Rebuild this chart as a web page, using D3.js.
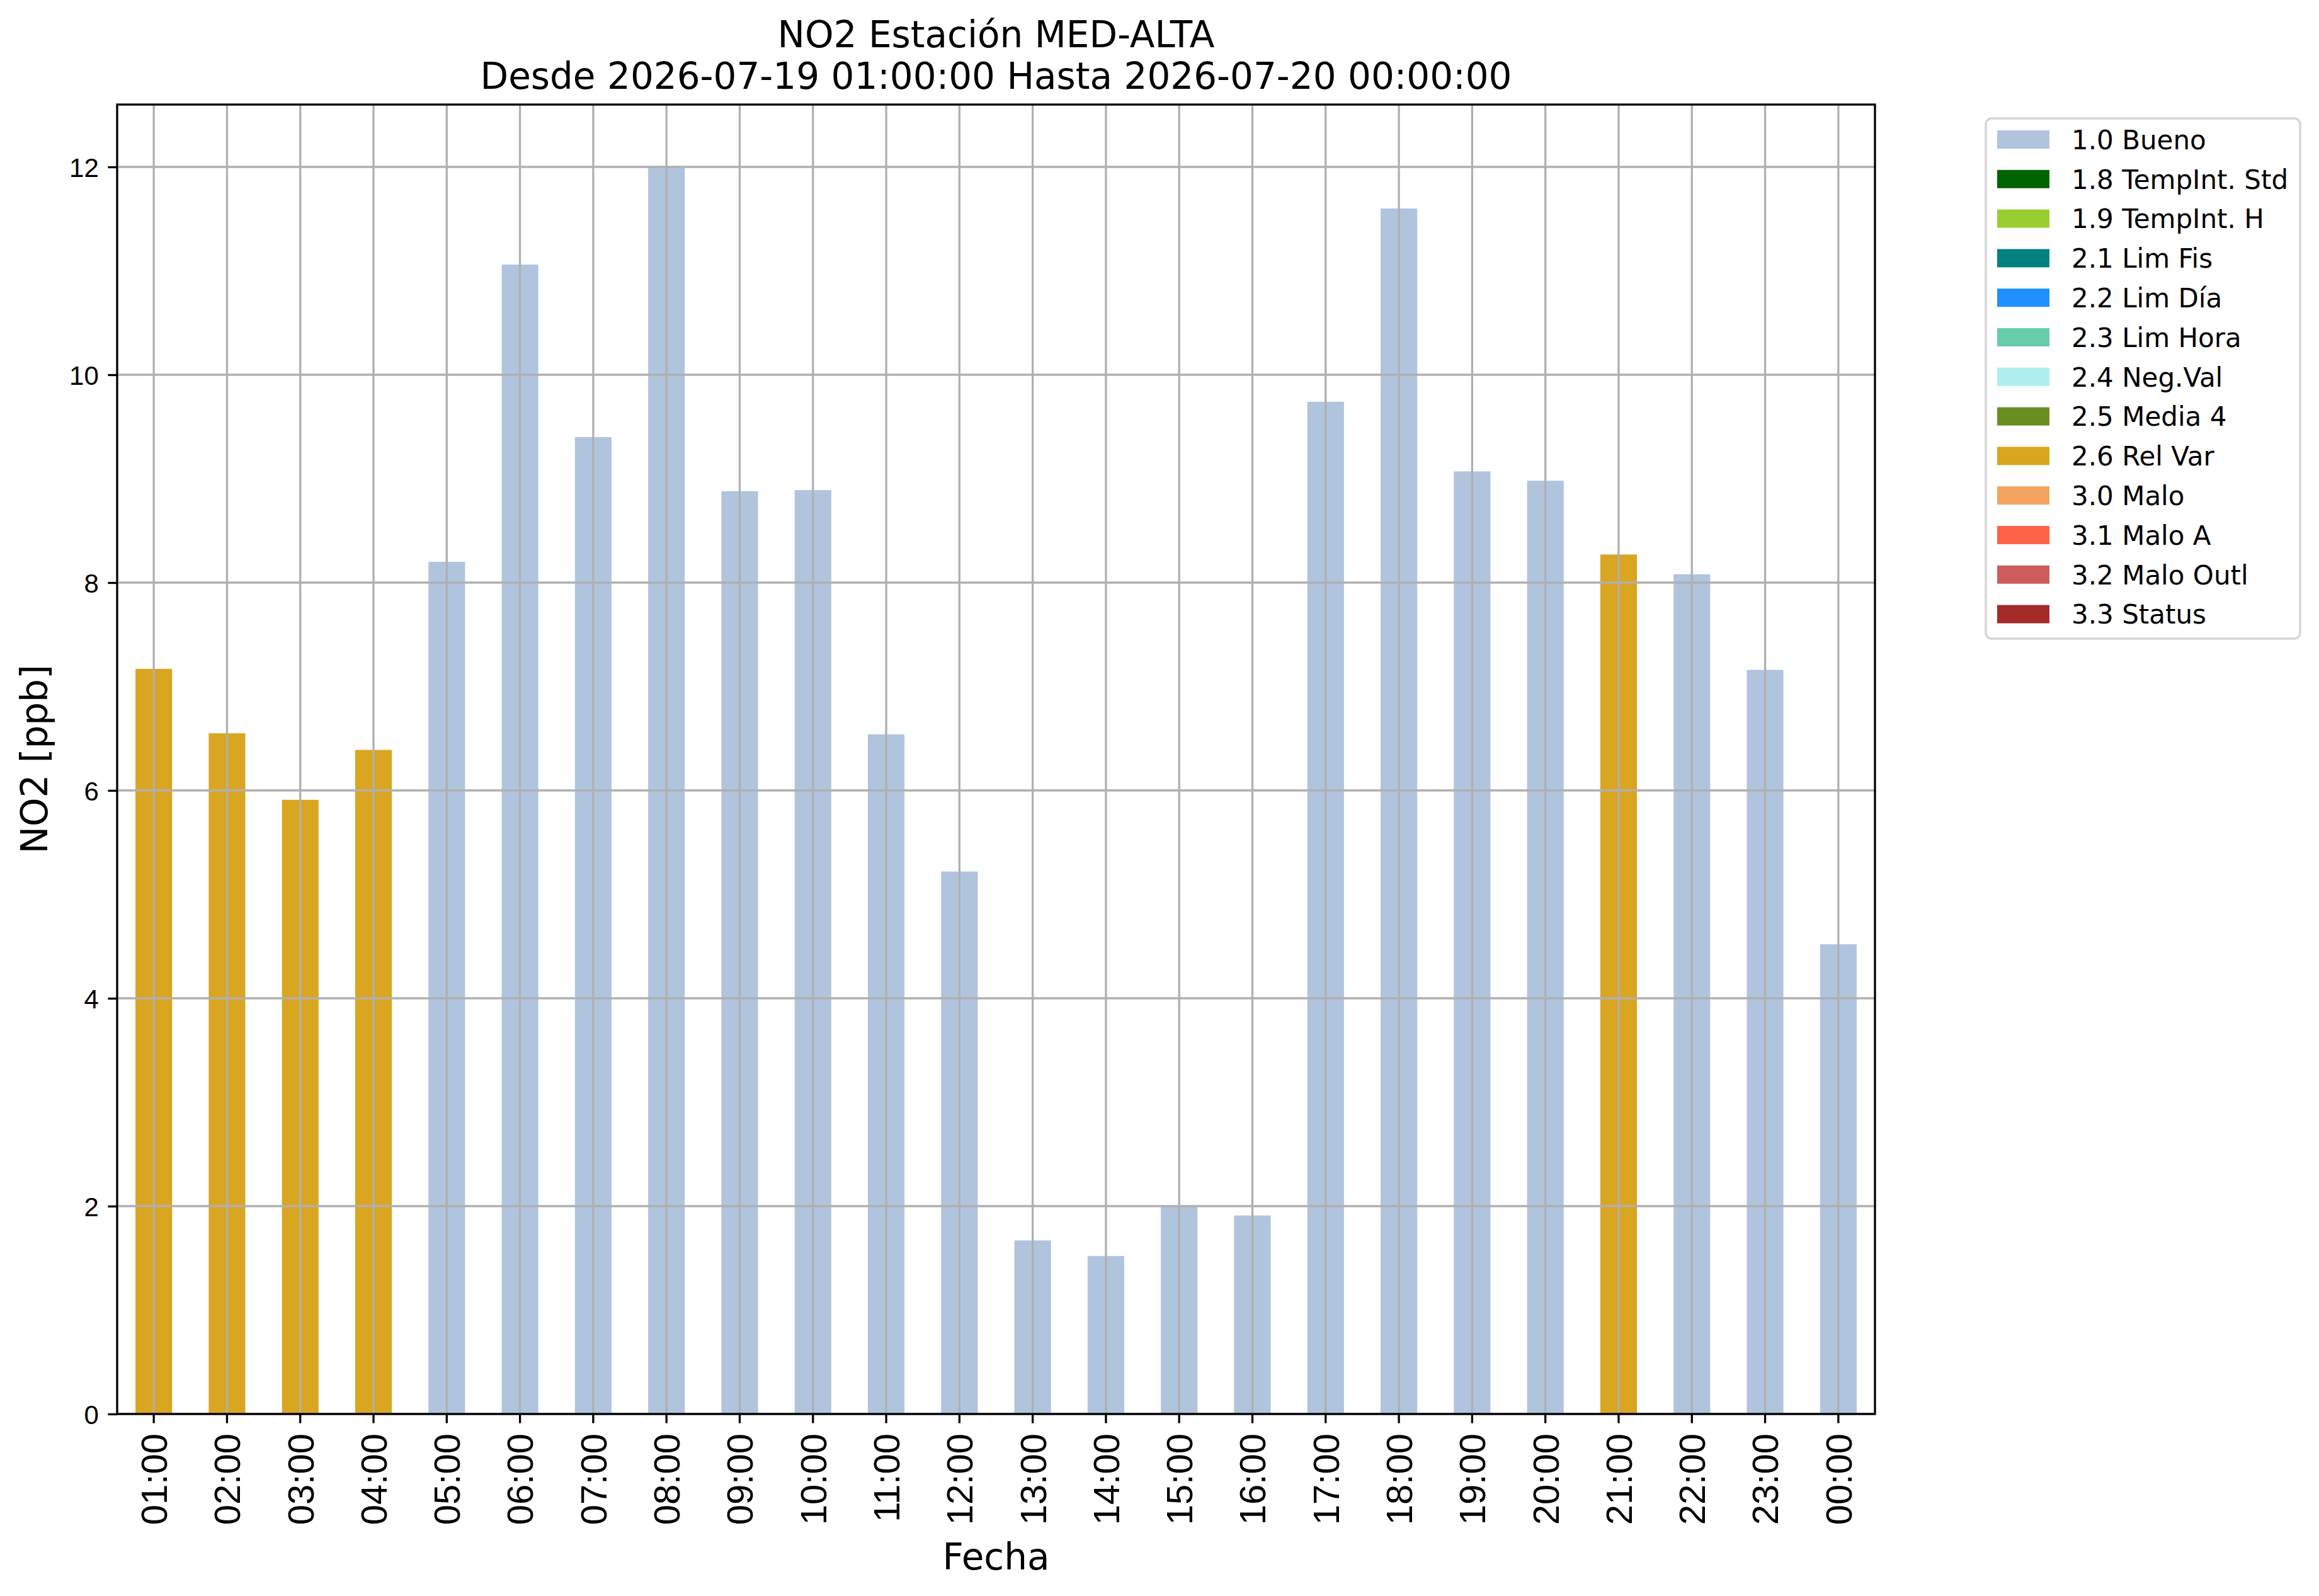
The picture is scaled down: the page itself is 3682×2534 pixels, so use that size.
<!DOCTYPE html>
<html lang="es">
<head>
<meta charset="UTF-8">
<title>NO2 Estación MED-ALTA</title>
<style>
body { margin: 0; background: #fff; }
svg { display: block; font-family: "DejaVu Sans", sans-serif; }
.axis path { display: none; }
.axis line { stroke: #000; stroke-width: 3.3; }
.axis text { fill: #000; }
.grid line { stroke: #b0b0b0; stroke-width: 3.3; }
</style>
</head>
<body>
<svg width="3682" height="2534"></svg>
<script src="https://d3js.org/d3.v7.min.js"></script>
<script>

// hours on the x axis
const hours = ['01:00', '02:00', '03:00', '04:00', '05:00', '06:00', '07:00', '08:00',
    '09:00', '10:00', '11:00', '12:00', '13:00', '14:00', '15:00', '16:00',
    '17:00', '18:00', '19:00', '20:00', '21:00', '22:00', '23:00', '00:00'];

// NO2 [ppb] per hour
const values = [7.17, 6.55, 5.91, 6.39, 8.20, 11.06, 9.40, 12.00,
    8.88, 8.89, 6.54, 5.22, 1.67, 1.52, 2.00, 1.91,
    9.74, 11.60, 9.07, 8.98, 8.27, 8.08, 7.16, 4.52];

// validation flag of each hour
const flags = ['2.6 Rel Var', '2.6 Rel Var', '2.6 Rel Var', '2.6 Rel Var', '1.0 Bueno', '1.0 Bueno', '1.0 Bueno', '1.0 Bueno',
    '1.0 Bueno', '1.0 Bueno', '1.0 Bueno', '1.0 Bueno', '1.0 Bueno', '1.0 Bueno', '1.0 Bueno', '1.0 Bueno',
    '1.0 Bueno', '1.0 Bueno', '1.0 Bueno', '1.0 Bueno', '2.6 Rel Var', '1.0 Bueno', '1.0 Bueno', '1.0 Bueno'];

// legend categories and their colours
const categories = ['1.0 Bueno', '1.8 TempInt. Std', '1.9 TempInt. H', '2.1 Lim Fis', '2.2 Lim Día',
    '2.3 Lim Hora', '2.4 Neg.Val', '2.5 Media 4', '2.6 Rel Var', '3.0 Malo',
    '3.1 Malo A', '3.2 Malo Outl', '3.3 Status'];
const categoryColors = ['lightsteelblue', 'darkgreen', 'yellowgreen', 'teal', 'dodgerblue',
    'mediumaquamarine', 'paleturquoise', 'olivedrab', 'goldenrod', 'sandybrown',
    'tomato', 'indianred', 'brown'];

const yTicks = [0, 2, 4, 6, 8, 10, 12];

const titleLines = ['NO2 Estación MED-ALTA', 'Desde 2026-07-19 01:00:00 Hasta 2026-07-20 00:00:00'];

const data = hours.map((h, i) => ({ hour: h, value: values[i], flag: flags[i] }));

var svg = d3.select('svg');

var plot = { left: 186, right: 2977, top: 166, bottom: 2245 };

var x = d3.scaleBand()
    .domain(hours)
    .range([plot.left, plot.right])
    .paddingInner(0.5)
    .paddingOuter(0.25);

var y = d3.scaleLinear()
    .domain([0, 12.6])
    .range([plot.bottom, plot.top]);

var color = d3.scaleOrdinal()
    .domain(categories)
    .range(categoryColors);

// bars
svg.append('g')
    .attr('class', 'bars')
    .selectAll('rect')
    .data(data)
    .enter().append('rect')
    .attr('x', d => x(d.hour))
    .attr('y', d => y(d.value))
    .attr('width', x.bandwidth())
    .attr('height', d => y(0) - y(d.value))
    .attr('fill', d => color(d.flag));

// grid, drawn over the bars
let grid = svg.append('g').attr('class', 'grid');
grid.selectAll('.gx')
    .data(hours)
    .enter().append('line')
    .attr('x1', d => x(d) + x.bandwidth() / 2)
    .attr('x2', d => x(d) + x.bandwidth() / 2)
    .attr('y1', plot.top)
    .attr('y2', plot.bottom);
grid.selectAll('.gy')
    .data(yTicks)
    .enter().append('line')
    .attr('x1', plot.left)
    .attr('x2', plot.right)
    .attr('y1', d => y(d))
    .attr('y2', d => y(d));

// axes
let xAxis = svg.append('g')
    .attr('class', 'axis axis--x')
    .attr('transform', `translate(0, ${plot.bottom})`)
    .call(d3.axisBottom(x).tickSize(14.6).tickPadding(14.6));
xAxis.selectAll('text')
    .attr('font-size', 58)
    .attr('transform', 'rotate(-90)')
    .attr('text-anchor', 'end')
    .attr('x', -31)
    .attr('y', 0)
    .attr('dy', '0.36em');

let yAxis = svg.append('g')
    .attr('class', 'axis axis--y')
    .attr('transform', `translate(${plot.left}, 0)`)
    .call(d3.axisLeft(y).tickValues(yTicks).tickSize(14.6).tickPadding(14.6));
yAxis.selectAll('text')
    .attr('font-size', 42)
    .attr('dy', '0.36em');

// frame
svg.append('rect')
    .attr('x', plot.left)
    .attr('y', plot.top)
    .attr('width', plot.right - plot.left)
    .attr('height', plot.bottom - plot.top)
    .attr('fill', 'none')
    .attr('stroke', '#000')
    .attr('stroke-width', 3.3);

// title
svg.append('g')
    .selectAll('text')
    .data(titleLines)
    .enter().append('text')
    .attr('x', (plot.left + plot.right) / 2)
    .attr('y', (d, i) => 75 + i * 66)
    .attr('text-anchor', 'middle')
    .attr('font-size', 58)
    .text(d => d);

// axis labels
svg.append('text')
    .attr('x', (plot.left + plot.right) / 2)
    .attr('y', 2492)
    .attr('text-anchor', 'middle')
    .attr('font-size', 58)
    .text('Fecha');

svg.append('text')
    .attr('transform', `translate(75, ${(plot.top + plot.bottom) / 2}) rotate(-90)`)
    .attr('text-anchor', 'middle')
    .attr('font-size', 58)
    .text('NO2 [ppb]');

// legend
let legend = svg.append('g').attr('class', 'legend');
legend.append('rect')
    .attr('x', 3153)
    .attr('y', 188)
    .attr('width', 499)
    .attr('height', 826)
    .attr('rx', 9)
    .attr('fill', '#fff')
    .attr('stroke', '#d6d6d6')
    .attr('stroke-width', 3.5);

let rows = legend.selectAll('.row')
    .data(categories)
    .enter().append('g')
    .attr('class', 'row')
    .attr('transform', (d, i) => `translate(0, ${221.5 + i * 62.8})`);
rows.append('rect')
    .attr('x', 3171)
    .attr('y', -14.5)
    .attr('width', 83)
    .attr('height', 29)
    .attr('fill', d => color(d));
rows.append('text')
    .attr('x', 3289)
    .attr('y', 15.3)
    .attr('font-size', 42)
    .text(d => d);

</script>
</body>
</html>
